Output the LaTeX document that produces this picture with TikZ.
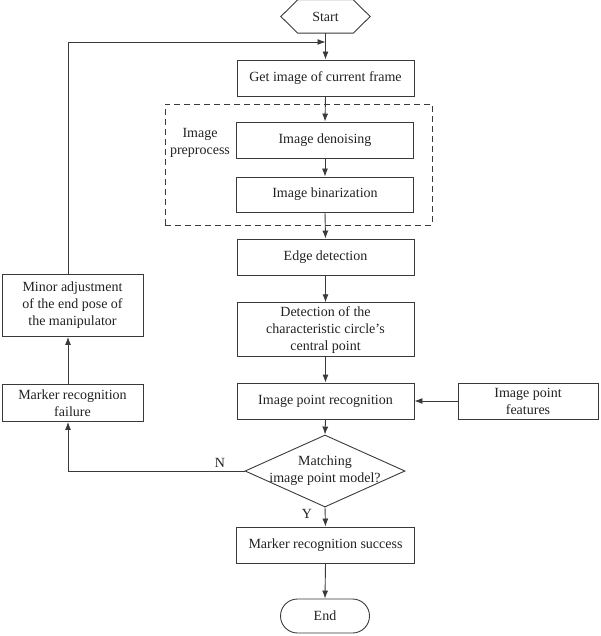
\documentclass[tikz,border=0pt]{standalone}
\usepackage{fontspec}
\setmainfont{Liberation Serif}
\usetikzlibrary{shapes.geometric,shapes.misc,arrows.meta}
\definecolor{linec}{HTML}{3A3A3A}
\definecolor{textc}{HTML}{222222}
\begin{document}
\begin{tikzpicture}[x=1pt,y=-1pt,
  txt/.style={text=textc, font=\fontsize{14}{17}\selectfont, align=center, inner sep=0pt},
  box/.style={txt, draw=linec, line width=0.9pt, minimum height=36pt, minimum width=177pt},
  arr/.style={draw=linec, line width=0.9pt, -{Latex[length=8pt,width=6pt]}},
  ln/.style={draw=linec, line width=0.9pt}]
\useasboundingbox (0,0) rectangle (600,636);
% start hexagon
\node[txt, minimum width=89pt, minimum height=33pt] (start) at (325.5,16.5) {Start};
\draw[ln] (start.west) -- ([xshift=17pt]start.north west) -- ([xshift=-17pt]start.north east)
  -- (start.east) -- ([xshift=-17pt]start.south east) -- ([xshift=17pt]start.south west) -- cycle;
% boxes
\node[box] (get) at (325.5,78) {Get image of current frame};
\node[draw=linec, line width=0.9pt, dash pattern=on 6pt off 4pt, minimum width=267pt, minimum height=121pt, inner sep=0pt] (pre) at (298.5,164.5) {};
\node[txt] (prel) at (200,143) {Image\\preprocess};
\node[box] (den) at (325,140) {Image denoising};
\node[box, minimum height=35pt] (bin) at (325,194.5) {Image binarization};
\node[box] (edge) at (325.5,257) {Edge detection};
\node[box, minimum height=54pt] (det) at (325.5,329.7) {Detection of the\\characteristic circle’s\\central point};
\node[box] (ipr) at (325.5,401) {Image point recognition};
\node[box, minimum width=140pt] (ipf) at (528,401) {Image point\\features};
\node[box, minimum width=141pt, minimum height=62pt] (min) at (72.5,305.5) {Minor adjustment\\of the end pose of\\the manipulator};
\node[box, minimum width=141pt, minimum height=37pt] (fail) at (72.5,403) {Marker recognition\\failure};
\node[diamond, draw=linec, line width=0.9pt, minimum width=160pt, minimum height=72pt, inner sep=0pt] (dec) at (325,471) {};
\node[txt] (decl) at (325,471) {Matching\\image point model?};
\node[box, minimum width=178pt] (succ) at (325.5,545) {Marker recognition success};
\node[txt, rounded rectangle, draw=linec, line width=0.9pt, minimum width=89pt, minimum height=34pt] (end) at (325,616) {End};
% connectors
\coordinate (c1) at (68,42);
\draw[arr] (start.south) -- (get.north);
\draw[arr] (min.north -| c1) -- (c1) -- (c1 -| start.south);
\draw[arr] (get.south) -- (den.north);
\draw[arr] (den.south) -- (bin.north);
\draw[arr] (bin.south) -- (edge.north);
\draw[arr] (edge.south) -- (det.north);
\draw[arr] (det.south) -- (ipr.north);
\draw[arr] (ipf.west) -- (ipr.east);
\draw[arr] (ipr.south) -- (dec.north);
\draw[arr] (dec.west) -| (fail.south -| c1);
\draw[arr] (fail.north -| c1) -- (min.south -| c1);
\draw[arr] (dec.south) -- (succ.north);
\draw[arr] (succ.south) -- (end.north);
\node[txt] (nl) at (220,463) {N};
\node[txt] (yl) at (307,514) {Y};
\end{tikzpicture}
\end{document}
